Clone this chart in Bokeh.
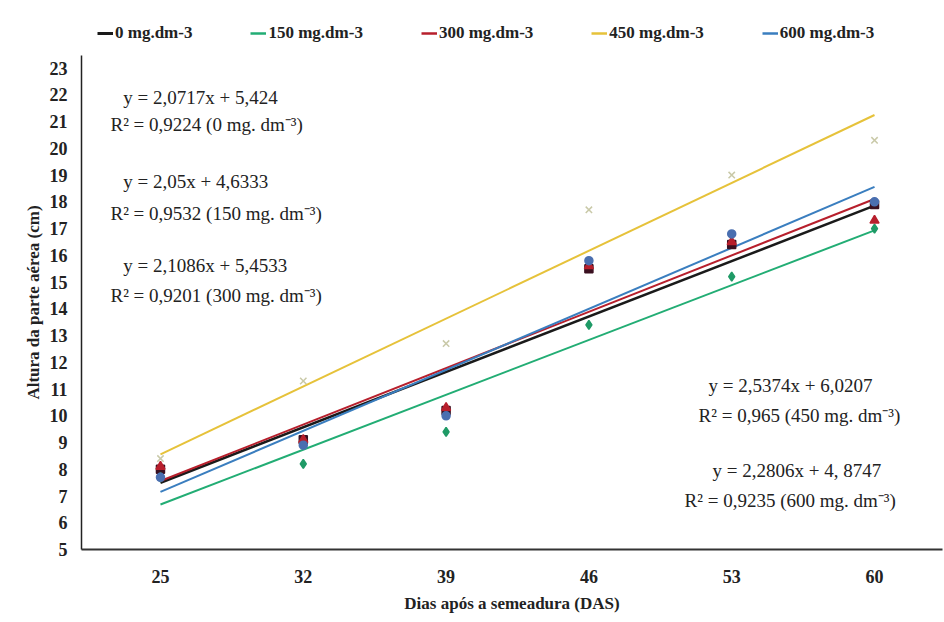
from bokeh.plotting import figure
from bokeh.layouts import column
from bokeh.models import Range1d, FixedTicker, Legend, LegendItem, Label
from bokeh.embed import file_html
from bokeh.resources import INLINE

# ---- data ----
days = ["25", "32", "39", "46", "53", "60"]
xpos = [1, 2, 3, 4, 5, 6]
series = ["0 mg.dm-3", "150 mg.dm-3", "300 mg.dm-3", "450 mg.dm-3", "600 mg.dm-3"]
y0 = [8.0, 9.1, 10.2, 15.5, 16.4, 17.9]
y150 = [7.7, 8.2, 9.4, 13.4, 15.2, 17.0]
y300 = [8.1, 9.1, 10.3, 15.6, 16.5, 17.3]
y450 = [8.4, 11.3, 12.7, 17.7, 19.0, 20.3]
y600 = [7.7, 8.9, 10.0, 15.8, 16.8, 18.0]
slopes = [2.0717, 2.05, 2.1086, 2.5374, 2.2806]
intercepts = [5.424, 4.6333, 5.4533, 6.0207, 4.8747]
eq_texts = ["y = 2,0717x + 5,424", "y = 2,05x + 4,6333", "y = 2,1086x + 5,4533",
            "y = 2,5374x + 6,0207", "y = 2,2806x + 4, 8747"]
r2_texts = ["R² = 0,9224 (0 mg. dm⁻³)", "R² = 0,9532 (150 mg. dm⁻³)",
            "R² = 0,9201 (300 mg. dm⁻³)", "R² = 0,965 (450 mg. dm⁻³)",
            "R² = 0,9235 (600 mg. dm⁻³)"]
yticks = list(range(5, 24))

colors = ["#1a1a1a", "#22ad74", "#b71f2c", "#e6c23a", "#3a7ebf"]
mcolors = ["#3a1020", "#1f9a66", "#b71f2c", "#c9c9a8", "#4a6fb0"]
markers = ["square", "diamond", "triangle", "x", "circle"]
msizes = [8, 9, 9, 9, 8]
lwidths = [2.5, 2, 2, 2, 2]
ys = [y0, y150, y300, y450, y600]

SERIF = "Liberation Serif"

# ---- legend strip (separate small figure above the chart) ----
lf = figure(width=944, height=44, output_backend="svg", toolbar_location=None,
            x_range=Range1d(0, 1), y_range=Range1d(0, 1),
            min_border_left=0, min_border_right=0, min_border_top=0, min_border_bottom=0)
lf.axis.visible = False
lf.grid.visible = False
lf.outline_line_color = None
items = []
for i in range(5):
    # legend-only renderer: its points lie outside the strip's visible range
    r = lf.line([-5, -4], [-5, -5], line_color=colors[i], line_width=lwidths[i] + 0.5)
    items.append(LegendItem(label=series[i], renderers=[r]))
legend = Legend(items=items, orientation="horizontal", location=(16, 1),
                label_text_font=SERIF, label_text_font_style="bold",
                label_text_font_size="17px", label_text_color="#222222",
                glyph_width=16, glyph_height=20, label_height=20, label_standoff=2,
                spacing=58, padding=0, margin=0, border_line_color=None,
                background_fill_alpha=0)
lf.add_layout(legend, "center")

# ---- main chart ----
p = figure(width=944, height=576, output_backend="svg", toolbar_location=None,
           x_range=Range1d(0.447, 6.476), y_range=Range1d(5, 23.47),
           min_border_left=81, min_border_right=2, min_border_top=11, min_border_bottom=71)
p.outline_line_color = None
p.grid.visible = False
p.background_fill_color = "white"

p.yaxis.ticker = FixedTicker(ticks=yticks)
p.xaxis.ticker = FixedTicker(ticks=xpos)
p.xaxis.major_label_overrides = {x: d for x, d in zip(xpos, days)}
for ax in (p.xaxis[0], p.yaxis[0]):
    ax.major_tick_line_color = None
    ax.minor_tick_line_color = None
    ax.major_label_text_font = SERIF
    ax.major_label_text_font_style = "bold"
    ax.major_label_text_font_size = "18px"
    ax.major_label_text_color = "#222222"
    ax.axis_label_text_font = SERIF
    ax.axis_label_text_font_style = "bold"
    ax.axis_label_text_font_size = "17px"
    ax.axis_label_text_color = "#222222"
p.yaxis.axis_line_color = "#222222"
p.yaxis.axis_line_width = 1.5
p.xaxis.axis_line_color = "#333333"
p.xaxis.axis_line_width = 2
p.yaxis.major_label_standoff = 8
p.xaxis.major_label_standoff = 14
p.yaxis.axis_label = "Altura da parte aérea (cm)"
p.xaxis.axis_label = "Dias após a semeadura (DAS)"
p.yaxis.axis_label_standoff = 4
p.xaxis.axis_label_standoff = 8

x_line = [xpos[0], xpos[-1]]
for i in range(5):
    yl = [slopes[i] * x + intercepts[i] for x in x_line]
    p.line(x_line, yl, line_color=colors[i], line_width=lwidths[i])
for i in range(5):
    p.scatter(xpos, ys[i], marker=markers[i], size=msizes[i],
              fill_color=mcolors[i], line_color=mcolors[i], line_width=1.5)

# equation annotations (positions in data units)
ann_x_eq = [0.74, 0.74, 0.74, 4.838, 4.866]
ann_x_r2 = [0.65, 0.65, 0.65, 4.768, 4.67]
ann_y_eq = [21.90, 18.76, 15.62, 11.13, 7.95]
ann_y_r2 = [20.89, 17.56, 14.50, 10.01, 6.83]
for i in range(5):
    for txt, ax_, ay_ in ((eq_texts[i], ann_x_eq[i], ann_y_eq[i]), (r2_texts[i], ann_x_r2[i], ann_y_r2[i])):
        p.add_layout(Label(x=ax_, y=ay_, text=txt, text_font=SERIF, text_font_size="19px",
                           text_color="#222222", text_baseline="middle", text_align="left"))

open("out.html", "w").write(file_html(column(lf, p), INLINE))
